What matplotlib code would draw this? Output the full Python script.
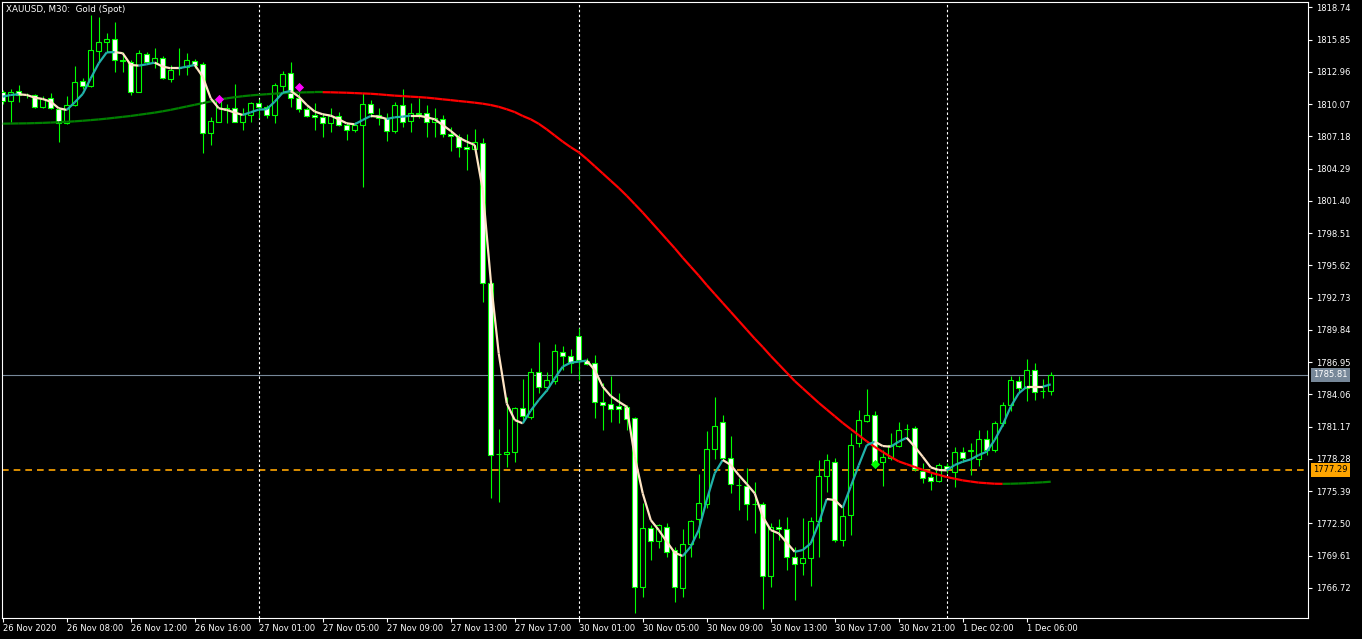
import matplotlib.pyplot as plt
import matplotlib.transforms as mtransforms
from matplotlib.collections import LineCollection
from matplotlib.patches import Rectangle

# XAUUSD M30 bars
opens = [1811.12, 1810.34, 1811.24, 1810.90, 1810.88, 1809.84, 1810.58, 1809.63, 1808.34, 1809.99,
         1812.14, 1811.72, 1814.85, 1815.60, 1815.90, 1814.00, 1813.87, 1811.18, 1814.53, 1813.72,
         1814.17, 1812.31, 1813.35, 1813.42, 1813.96, 1813.63, 1807.51, 1808.49, 1809.54, 1809.69,
         1808.49, 1809.09, 1810.14, 1809.84, 1809.09, 1811.72, 1812.82, 1810.58, 1809.60, 1809.06,
         1808.88, 1808.40, 1809.03, 1808.16, 1807.77, 1808.16, 1810.07, 1809.06, 1808.79, 1807.69,
         1809.99, 1808.52, 1809.24, 1809.24, 1808.43, 1808.76, 1807.36, 1807.15, 1806.19, 1806.01,
         1806.55, 1794.00, 1778.75, 1778.69, 1778.93, 1782.80, 1782.00, 1786.03, 1784.69, 1785.28,
         1787.88, 1787.52, 1789.32, 1787.07, 1786.84, 1783.34, 1783.16, 1782.98, 1782.95, 1781.91,
         1766.83, 1772.05, 1770.95, 1772.20, 1770.11, 1766.68, 1770.65, 1772.86, 1774.23, 1779.13,
         1781.61, 1778.33, 1775.97, 1775.88, 1774.20, 1774.20, 1767.75, 1772.14, 1771.96, 1769.45,
         1768.91, 1769.36, 1772.71, 1776.77, 1778.02, 1771.00, 1773.24, 1779.67, 1781.70, 1782.21,
         1778.02, 1778.32, 1779.46, 1780.98, 1781.01, 1777.19, 1776.65, 1776.29, 1777.60, 1777.13,
         1778.86, 1779.00, 1778.23, 1780.03, 1779.07, 1781.46, 1783.10, 1785.28, 1784.60, 1786.24,
         1784.39, 1784.39]
highs = [1811.30, 1811.42, 1811.78, 1811.10, 1811.00, 1810.82, 1811.03, 1809.84, 1810.79, 1813.48,
         1812.37, 1818.05, 1817.87, 1816.40, 1817.40, 1814.76, 1814.02, 1814.91, 1814.76, 1815.06,
         1814.41, 1813.57, 1815.06, 1814.62, 1814.08, 1813.87, 1808.88, 1810.88, 1810.05, 1811.87,
         1809.69, 1810.22, 1810.52, 1809.99, 1811.93, 1813.03, 1813.87, 1811.03, 1809.84, 1810.13,
         1809.24, 1809.69, 1809.39, 1808.49, 1808.49, 1811.03, 1810.43, 1809.69, 1809.24, 1810.28,
         1811.42, 1810.13, 1810.58, 1809.99, 1809.69, 1809.09, 1808.04, 1807.39, 1807.39, 1807.80,
         1807.00, 1794.20, 1780.92, 1783.85, 1782.96, 1785.40, 1786.45, 1788.72, 1786.03, 1788.54,
         1788.39, 1788.12, 1790.00, 1787.28, 1787.58, 1785.05, 1785.70, 1784.15, 1783.10, 1782.06,
         1774.35, 1772.35, 1772.44, 1772.56, 1770.41, 1771.96, 1772.80, 1776.92, 1780.77, 1783.79,
         1782.21, 1780.33, 1776.53, 1777.43, 1776.23, 1774.44, 1772.50, 1772.89, 1773.10, 1770.41,
         1772.94, 1773.09, 1778.17, 1778.71, 1778.32, 1773.99, 1780.56, 1782.65, 1784.50, 1782.56,
         1779.07, 1780.56, 1781.61, 1781.40, 1781.22, 1777.93, 1776.98, 1777.87, 1777.90, 1779.37,
         1779.37, 1779.67, 1780.86, 1780.86, 1781.70, 1783.40, 1785.70, 1785.70, 1787.22, 1786.84,
         1785.40, 1786.09]
lows = [1810.10, 1808.49, 1810.22, 1810.60, 1809.75, 1809.69, 1809.60, 1806.70, 1808.28, 1809.93,
        1811.42, 1811.63, 1813.87, 1814.76, 1812.91, 1812.97, 1810.88, 1811.12, 1813.81, 1813.27,
        1812.31, 1812.08, 1812.67, 1812.67, 1813.27, 1805.65, 1806.40, 1808.43, 1808.34, 1808.43,
        1807.75, 1808.49, 1808.79, 1808.79, 1808.34, 1811.18, 1809.84, 1809.39, 1808.94, 1807.75,
        1807.15, 1807.60, 1808.10, 1806.85, 1807.60, 1802.61, 1808.94, 1808.19, 1806.79, 1807.51,
        1808.04, 1807.60, 1808.79, 1807.15, 1807.15, 1807.15, 1805.90, 1805.30, 1804.16, 1805.96,
        1792.36, 1774.74, 1774.44, 1777.58, 1778.03, 1781.60, 1781.82, 1784.21, 1784.36, 1784.99,
        1786.24, 1785.94, 1785.36, 1786.69, 1781.97, 1780.86, 1781.61, 1781.46, 1780.86, 1764.50,
        1765.93, 1769.22, 1770.26, 1769.45, 1765.48, 1765.93, 1769.51, 1771.16, 1773.84, 1778.24,
        1778.18, 1775.19, 1773.69, 1772.80, 1771.60, 1764.79, 1766.83, 1771.01, 1768.35, 1765.60,
        1767.87, 1766.91, 1769.51, 1775.33, 1770.85, 1770.47, 1771.45, 1779.37, 1781.61, 1777.64,
        1775.84, 1778.17, 1779.37, 1780.20, 1777.22, 1776.08, 1775.49, 1776.23, 1776.98, 1775.78,
        1778.02, 1776.83, 1777.64, 1778.62, 1778.92, 1781.22, 1782.60, 1784.30, 1783.49, 1783.55,
        1783.70, 1784.00]
closes = [1810.34, 1811.18, 1810.88, 1810.85, 1809.84, 1810.52, 1809.69, 1808.34, 1809.99, 1812.08,
          1811.72, 1814.91, 1815.60, 1815.90, 1813.99, 1813.95, 1811.18, 1814.62, 1813.87, 1814.17,
          1812.37, 1813.12, 1813.30, 1814.02, 1813.57, 1807.45, 1808.55, 1810.43, 1809.69, 1808.49,
          1809.15, 1810.14, 1809.84, 1809.09, 1811.78, 1812.76, 1810.58, 1809.60, 1809.03, 1808.88,
          1808.40, 1809.03, 1808.16, 1807.77, 1808.19, 1810.07, 1809.24, 1808.79, 1807.69, 1809.99,
          1808.43, 1809.24, 1809.20, 1808.46, 1808.79, 1807.36, 1807.18, 1806.19, 1806.01, 1806.70,
          1794.00, 1778.60, 1778.72, 1778.93, 1782.80, 1782.10, 1786.03, 1784.69, 1785.31, 1787.91,
          1787.49, 1786.84, 1787.13, 1786.81, 1783.34, 1783.13, 1782.77, 1782.71, 1781.88, 1766.83,
          1772.05, 1770.95, 1772.35, 1769.96, 1766.77, 1770.65, 1772.68, 1774.29, 1779.13, 1781.19,
          1778.33, 1776.03, 1775.97, 1774.23, 1774.20, 1767.75, 1772.14, 1771.96, 1769.45, 1768.84,
          1769.36, 1772.71, 1776.74, 1778.17, 1771.00, 1773.15, 1779.52, 1781.76, 1782.21, 1777.87,
          1778.41, 1779.52, 1780.86, 1780.98, 1777.37, 1776.59, 1776.29, 1777.73, 1777.40, 1778.92,
          1778.32, 1779.10, 1780.03, 1779.07, 1781.46, 1783.10, 1785.34, 1784.60, 1786.24, 1784.30,
          1784.39, 1785.81]

# fast moving average (teal rising / beige falling)
fast_ma = [1810.73, 1810.88, 1810.94, 1810.88, 1810.64, 1810.52, 1810.28, 1809.69, 1809.54, 1810.22,
           1810.97, 1812.37, 1813.72, 1814.70, 1814.72, 1814.62, 1813.57, 1813.51, 1813.63, 1813.78,
           1813.42, 1813.27, 1813.27, 1813.42, 1813.57, 1812.52, 1810.58, 1809.69, 1809.54, 1809.30,
           1809.09, 1809.33, 1809.57, 1809.60, 1810.28, 1811.09, 1811.24, 1810.73, 1809.99, 1809.39,
           1809.15, 1809.03, 1808.70, 1808.34, 1808.25, 1808.64, 1809.00, 1808.94, 1808.73, 1808.88,
           1808.94, 1809.03, 1809.03, 1808.88, 1808.70, 1808.19, 1807.66, 1807.06, 1806.70, 1806.40,
           1802.40, 1794.30, 1787.73, 1783.25, 1781.76, 1781.46, 1782.60, 1783.55, 1784.39, 1785.49,
           1786.54, 1786.90, 1786.99, 1787.08, 1786.24, 1784.75, 1783.91, 1783.40, 1782.95, 1778.48,
           1775.19, 1772.80, 1771.90, 1770.86, 1769.87, 1769.57, 1770.41, 1771.90, 1774.59, 1776.98,
           1778.18, 1777.73, 1776.83, 1776.03, 1775.19, 1773.10, 1771.90, 1771.60, 1770.77, 1769.95,
           1770.11, 1770.70, 1772.50, 1774.68, 1774.59, 1773.90, 1775.80, 1777.70, 1779.50, 1779.82,
           1779.43, 1779.37, 1779.82, 1780.17, 1779.37, 1778.47, 1777.52, 1777.28, 1777.25, 1777.73,
           1778.02, 1778.23, 1778.62, 1778.92, 1779.97, 1781.31, 1782.95, 1784.15, 1784.74, 1784.74,
           1784.74, 1784.95]

# slow moving average (green rising / red falling)
slow_ma = [1808.31, 1808.32, 1808.33, 1808.34, 1808.36, 1808.38, 1808.41, 1808.44, 1808.48, 1808.52,
           1808.57, 1808.63, 1808.69, 1808.76, 1808.84, 1808.92, 1809.00, 1809.10, 1809.20, 1809.30,
           1809.42, 1809.55, 1809.70, 1809.85, 1810.00, 1810.15, 1810.30, 1810.45, 1810.58, 1810.68,
           1810.77, 1810.84, 1810.90, 1810.95, 1811.00, 1811.04, 1811.08, 1811.10, 1811.12, 1811.13,
           1811.13, 1811.12, 1811.10, 1811.08, 1811.05, 1811.02, 1810.99, 1810.94, 1810.88, 1810.82,
           1810.78, 1810.73, 1810.69, 1810.64, 1810.57, 1810.49, 1810.42, 1810.34, 1810.27, 1810.19,
           1810.10, 1809.98, 1809.82, 1809.60, 1809.35, 1809.00, 1808.70, 1808.30, 1807.80, 1807.25,
           1806.70, 1806.20, 1805.75, 1805.15, 1804.50, 1803.85, 1803.20, 1802.55, 1801.85, 1801.10,
           1800.35, 1799.55, 1798.75, 1797.95, 1797.15, 1796.30, 1795.50, 1794.70, 1793.85, 1793.05,
           1792.25, 1791.45, 1790.65, 1789.85, 1789.05, 1788.30, 1787.50, 1786.75, 1786.00, 1785.25,
           1784.60, 1783.95, 1783.30, 1782.70, 1782.10, 1781.50, 1780.95, 1780.40, 1779.85, 1779.35,
           1778.90, 1778.45, 1778.05, 1777.80, 1777.55, 1777.30, 1777.05, 1776.85, 1776.65, 1776.50,
           1776.35, 1776.25, 1776.15, 1776.10, 1776.05, 1776.04, 1776.05, 1776.07, 1776.10, 1776.14,
           1776.18, 1776.23]

time_labels = ["26 Nov 2020", "26 Nov 08:00", "26 Nov 12:00", "26 Nov 16:00", "27 Nov 01:00",
               "27 Nov 05:00", "27 Nov 09:00", "27 Nov 13:00", "27 Nov 17:00", "30 Nov 01:00",
               "30 Nov 05:00", "30 Nov 09:00", "30 Nov 13:00", "30 Nov 17:00", "30 Nov 21:00",
               "1 Dec 02:00", "1 Dec 06:00"]
time_ticks = list(range(0, 8 * len(time_labels), 8))
day_starts = [32, 72, 118]
price_ticks = [1818.74, 1815.85, 1812.96, 1810.07, 1807.18, 1804.29, 1801.40, 1798.51, 1795.62,
               1792.73, 1789.84, 1786.95, 1784.06, 1781.17, 1778.28, 1775.39, 1772.50, 1769.61, 1766.72]
bid_price = 1785.81
level_price = 1777.29
sell_bars = [27, 37]
sell_prices = [1810.52, 1811.60]
buy_bars = [109]
buy_prices = [1777.81]

FS = 6.0
W, H = 1362, 639
fig = plt.figure(figsize=(W / 100, H / 100), dpi=100, facecolor='black')
ax = fig.add_axes([2 / W, 21 / H, 1306 / W, 616 / H], facecolor='black')

# candles
for i in range(len(opens)):
    o, h, l, c = opens[i], highs[i], lows[i], closes[i]
    ax.vlines(i, l, h, color='#00ff00', lw=0.8, zorder=2)
    face = 'white' if c < o else 'black'
    ax.add_patch(Rectangle((i - 0.28, min(o, c)), 0.56, abs(c - o), facecolor=face,
                           edgecolor='#00ff00', lw=0.8, zorder=3))

# moving averages, coloured by direction
def colored_line(vals, up_col, dn_col, lw, z, flat_up=False):
    segs, cols = [], []
    for i in range(1, len(vals)):
        segs.append([(i - 1, vals[i - 1]), (i, vals[i])])
        rising = vals[i] >= vals[i - 1] if flat_up else vals[i] > vals[i - 1]
        cols.append(up_col if rising else dn_col)
    ax.add_collection(LineCollection(segs, colors=cols, linewidths=lw, zorder=z))

colored_line(slow_ma, '#008000', '#ff0000', 1.6, 4, flat_up=True)
colored_line(fast_ma, '#20b2aa', '#ffe4c4', 1.6, 5)

# signal markers
ax.scatter(sell_bars, sell_prices, marker='D', s=22, color='#ff00ff', zorder=6, linewidths=0)
ax.scatter(buy_bars, buy_prices, marker='D', s=22, color='#00ff00', zorder=6, linewidths=0)

# price lines and day separators
ax.axhline(bid_price, color='#778899', lw=0.8, zorder=1)
ax.axhline(level_price, color='#ffa500', lw=1.2, dashes=(4, 3), zorder=1)
for d in day_starts:
    ax.axvline(d, color='white', lw=0.8, dashes=(2.2, 2.2), zorder=1)

ax.set_xlim(-0.09, 163.16)
ax.set_ylim(1764.02, 1819.21)

for s in ax.spines.values():
    s.set_color('white')
    s.set_linewidth(0.8)

ax.yaxis.tick_right()
ax.set_yticks(price_ticks)
ax.set_yticklabels([f"{p:.2f}" for p in price_ticks])
ax.tick_params(axis='y', colors='white', labelcolor='white', length=3, width=0.8,
               labelsize=FS, pad=2.5)
ax.set_xticks(time_ticks)
ax.set_xticklabels(time_labels)
ax.tick_params(axis='x', colors='white', labelcolor='white', length=3, width=0.8,
               labelsize=FS, pad=1.5)
for lbl in ax.get_xticklabels():
    lbl.set_horizontalalignment('left')

# price tags on the right scale
tr = mtransforms.blended_transform_factory(ax.transAxes, ax.transData)
ax.text(1.004, bid_price, f"{bid_price:.2f}", transform=tr, fontsize=FS, color='white',
        va='center', ha='left',
        bbox=dict(facecolor='#778899', edgecolor='none', boxstyle='square,pad=0.3'))
ax.text(1.004, level_price, f"{level_price:.2f}", transform=tr, fontsize=FS, color='black',
        va='center', ha='left',
        bbox=dict(facecolor='#ffa500', edgecolor='none', boxstyle='square,pad=0.3'))

fig.text(6 / W, 1 - 9 / H, "XAUUSD, M30:  Gold (Spot)", color='white', fontsize=FS + 0.3,
         va='center', ha='left')

fig.savefig('out.png', dpi=100, facecolor='black')
